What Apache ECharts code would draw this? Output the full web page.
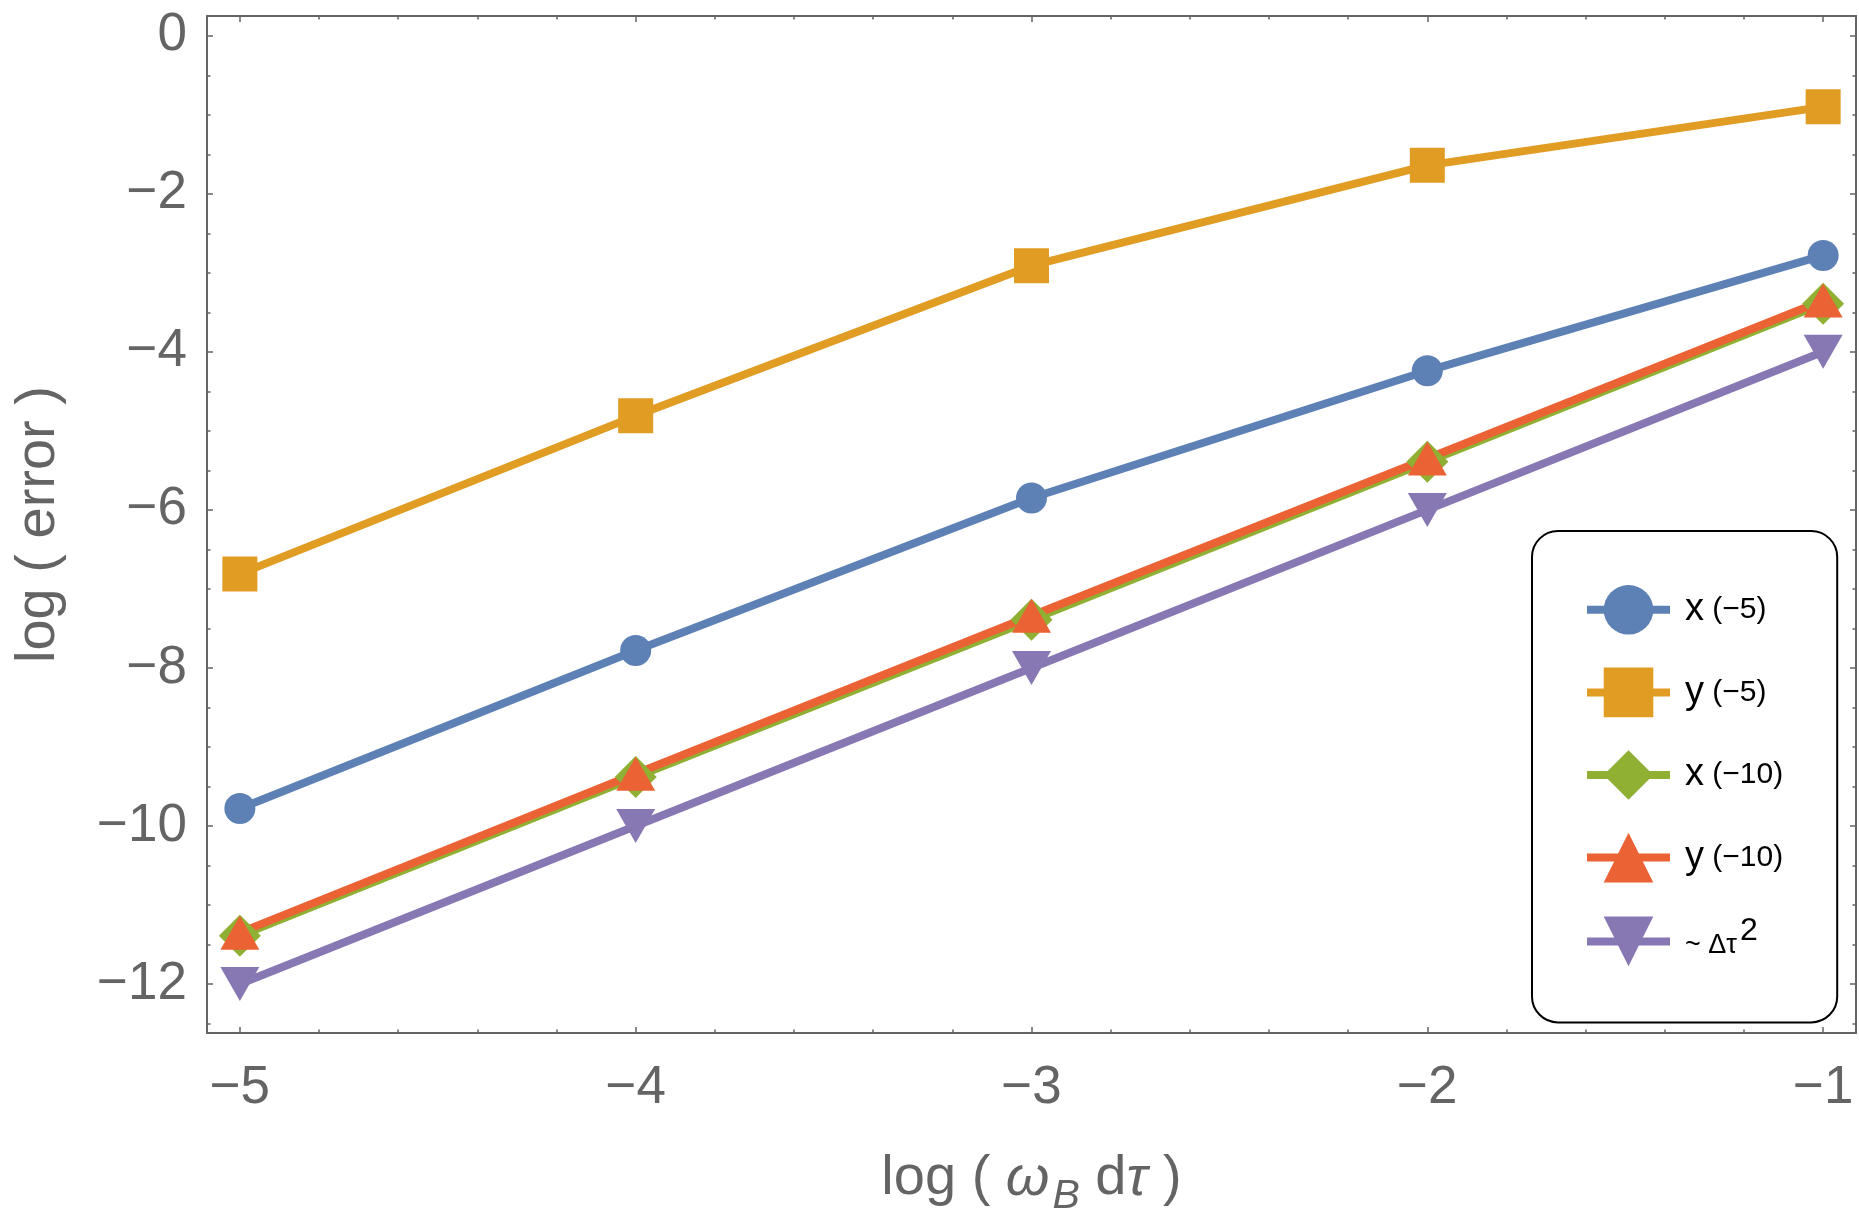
<!DOCTYPE html>
<html>
<head>
<meta charset="utf-8">
<script src="https://cdn.jsdelivr.net/npm/echarts@6/dist/echarts.min.js"></script>
<style>
  html, body { margin: 0; padding: 0; background: #fff; }
  #chart { width: 1859px; height: 1216px; }
</style>
</head>
<body>
<div id="chart"></div>
<script>
// log(omega_B dtau) on x, log(error) on y
const logStep = [-5, -4, -3, -2, -1]
const xErr5 = [-9.78, -7.78, -5.85, -4.24, -2.78]
const yErr5 = [-6.81, -4.81, -2.91, -1.64, -0.90]
const xErr10 = [-11.39, -9.38, -7.39, -5.39, -3.39]
const yErr10 = [-11.35, -9.34, -7.34, -5.35, -3.35]
const dtSquared = [-12, -10, -8, -6, -4]

const seriesNames = ['x (\u22125)', 'y (\u22125)', 'x (\u221210)', 'y (\u221210)', '~ \u0394\u03c4\u00b2']
const xTickLabels = [-5, -4, -3, -2, -1]
const yTickLabels = [-12, -10, -8, -6, -4, -2, 0]

const FONT = "'Liberation Sans', Arial, sans-serif"
const GREY = '#646464'
const colors = ['#5e81b5', '#e19c24', '#8fb032', '#eb6235', '#8778b3']

// minor ticks: 0.2 on x, 0.5 on y
let xMinor = []
for (let i = -25; i <= -5; i++) {
  if (i % 5 != 0) xMinor.push(i / 5)
}
let yMinor = []
for (let i = -25; i <= 0; i++) {
  if (i % 4 != 0) yMinor.push(i / 2)
}

const fmt = v => String(v).replace('-', '\u2212')
const frameLine = { show: true, onZero: false, lineStyle: { color: GREY, width: 2 } }

function makeAxis(pos, min, max, ticks, len, withLine, labels) {
  return {
    type: 'value',
    position: pos,
    min: min,
    max: max,
    axisLine: withLine ? frameLine : { show: false, onZero: false },
    splitLine: { show: false },
    axisTick: {
      show: true, inside: true, length: len, customValues: ticks,
      lineStyle: { color: GREY, width: 1.5 }
    },
    axisLabel: labels ? {
      show: true, customValues: ticks, formatter: fmt,
      color: GREY, fontSize: 53, fontFamily: FONT,
      margin: pos == 'bottom' ? 29 : 20
    } : { show: false }
  }
}

const xMin = -5.083, xMax = -0.917
const yMin = -12.62, yMax = 0.25

let xAxes = [
  makeAxis('bottom', xMin, xMax, xTickLabels, 6, true, true),
  makeAxis('bottom', xMin, xMax, xMinor, 3.5, false, false),
  makeAxis('top', xMin, xMax, xTickLabels, 6, true, false),
  makeAxis('top', xMin, xMax, xMinor, 3.5, false, false)
]
xAxes[0].name = 'log ( {i|\u03c9}{sub|B} d{i|\u03c4} )'
xAxes[0].nameLocation = 'middle'
xAxes[0].nameGap = 108
xAxes[0].nameTextStyle = {
  color: GREY, fontSize: 56, fontFamily: FONT, lineHeight: 76,
  rich: {
    i: { fontStyle: 'italic', fontSize: 56, fontFamily: FONT, color: GREY, lineHeight: 76 },
    sub: { fontStyle: 'italic', fontSize: 41, fontFamily: FONT, color: GREY, lineHeight: 40, padding: [36, 0, 0, 3] }
  }
}

let yAxes = [
  makeAxis('left', yMin, yMax, yTickLabels, 6, true, true),
  makeAxis('left', yMin, yMax, yMinor, 3.5, false, false),
  makeAxis('right', yMin, yMax, yTickLabels, 6, true, false),
  makeAxis('right', yMin, yMax, yMinor, 3.5, false, false)
]
yAxes[0].name = 'log ( error )'
yAxes[0].nameLocation = 'middle'
yAxes[0].nameRotate = 90
yAxes[0].nameGap = 140
yAxes[0].nameTextStyle = { color: GREY, fontSize: 56, fontFamily: FONT }

const seriesData = [xErr5, yErr5, xErr10, yErr10, dtSquared]
const symbols = ['circle', 'rect', 'diamond', 'triangle', 'path://M0,0 L2,0 L1,1.75 Z']
const symbolSizes = [31, 35, 42, [39, 34], [39, 34]]

let series = []
for (let k = 0; k < seriesData.length; k++) {
  series.push({
    name: seriesNames[k],
    type: 'line',
    data: logStep.map((x, i) => [x, seriesData[k][i]]),
    symbol: symbols[k],
    symbolSize: symbolSizes[k],
    showAllSymbol: true,
    color: colors[k],
    lineStyle: { width: 8, color: colors[k] },
    itemStyle: { color: colors[k], opacity: 1 },
    emphasis: { disabled: true },
    animation: false
  })
}

function legendText(name) {
  if (name.charAt(0) == '~') {
    return '{t|~ \u0394\u03c4}{sup|2}'
  }
  return '{v|' + name.charAt(0) + '}{p| ' + name.slice(2) + '}'
}

let option = {
  backgroundColor: '#fff',
  animation: false,
  grid: { left: 207, right: 3, top: 16, bottom: 183, containLabel: false, outerBoundsMode: 'none' },
  xAxis: xAxes,
  yAxis: yAxes,
  legend: {
    orient: 'vertical',
    left: 1532,
    top: 531,
    padding: [54, 54, 55, 51],
    itemWidth: 83,
    itemHeight: 62,
    itemGap: 33,
    backgroundColor: '#fff',
    borderColor: '#000',
    borderWidth: 2,
    borderRadius: 26,
    selectedMode: false,
    data: seriesNames,
    formatter: legendText,
    lineStyle: { width: 8 },
    textStyle: {
      color: '#000', fontFamily: FONT,
      rich: {
        v: { fontSize: 38, fontFamily: FONT, color: '#000', padding: [0, 0, 0, 10] },
        p: { fontSize: 30, fontFamily: FONT, color: '#000' },
        t: { fontSize: 27, fontFamily: FONT, color: '#000', lineHeight: 26, padding: [8, 0, 0, 10] },
        sup: { fontSize: 32, fontFamily: FONT, color: '#000', lineHeight: 30, padding: [0, 0, 20, 3] }
      }
    }
  },
  series: series
}

var myChart = echarts.init(document.getElementById('chart'), null, { renderer: 'canvas' })
myChart.setOption(option, true)
</script>
</body>
</html>
